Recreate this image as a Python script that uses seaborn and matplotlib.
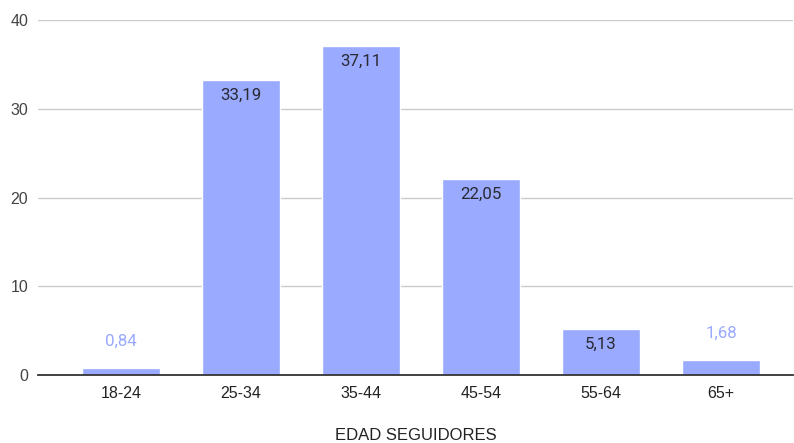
import matplotlib
matplotlib.use("Agg")
import matplotlib.pyplot as plt
import seaborn as sns
import pandas as pd

# Follower age distribution (%)
categories = ["18-24", "25-34", "35-44", "45-54", "55-64", "65+"]
values = [0.84, 33.19, 37.11, 22.05, 5.13, 1.68]
y_ticks = [0, 10, 20, 30, 40]
x_title = "EDAD SEGUIDORES"

bar_color = "#99aaff"

sns.set_theme(style="white")
plt.rcParams["font.family"] = ["Liberation Sans", "DejaVu Sans"]

W, H = 794, 443
fig = plt.figure(figsize=(W / 100, H / 100), dpi=100)
ax = fig.add_axes([38 / W, (H - 375) / H, (793 - 38) / W, (375 - 20) / H])

df = pd.DataFrame({"edad": categories, "pct": values})
sns.barplot(data=df, x="edad", y="pct", color=bar_color, saturation=1,
            width=0.65, ax=ax, zorder=3)

ax.set_xlim(-0.692, 5.6)
ax.set_ylim(0, 40)
ax.set_yticks(y_ticks)
ax.set_yticklabels([str(t) for t in y_ticks])
ax.yaxis.grid(True, color="#cccccc", linewidth=1.0, zorder=0)
ax.set_axisbelow(True)
for s in ["top", "right", "left"]:
    ax.spines[s].set_visible(False)
ax.spines["bottom"].set_color("#333333")
ax.spines["bottom"].set_linewidth(1.3)
ax.spines["bottom"].set_zorder(4)

ax.tick_params(axis="both", length=0, labelsize=11.5, labelcolor="#222222")
ax.tick_params(axis="y", pad=7, labelcolor="#444444")
ax.tick_params(axis="x", pad=8)

ax.set_xlabel(x_title, fontsize=12, color="#222222", labelpad=19)
ax.set_ylabel("")

# Value labels: inside the bar top for tall bars, above it for short ones
for i, v in enumerate(values):
    txt = f"{v:.2f}".replace(".", ",")
    if v >= 4:
        ax.annotate(txt, (i, v), xytext=(0, -11), textcoords="offset points",
                    ha="center", va="center", fontsize=12.2, color="#2a2a33",
                    family=["Roboto", "DejaVu Sans"], zorder=5)
    else:
        ax.annotate(txt, (i, v), xytext=(0, 19), textcoords="offset points",
                    ha="center", va="center", fontsize=12.2, color=bar_color,
                    family=["Roboto", "DejaVu Sans"], zorder=5)

fig.savefig("out.png", dpi=100)
